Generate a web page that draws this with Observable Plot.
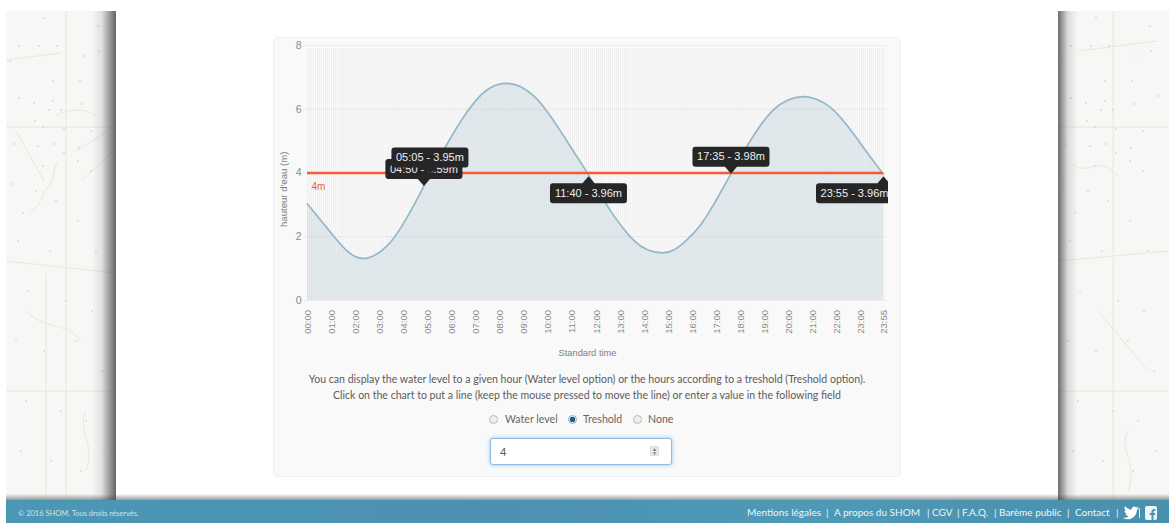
<!DOCTYPE html>
<html lang="en"><head><meta charset="utf-8">
<script src="https://cdn.jsdelivr.net/npm/d3@7"></script>
<script src="https://cdn.jsdelivr.net/npm/@observablehq/plot@0.6"></script>
<style>
html,body{margin:0;padding:0;background:#fff;width:1169px;height:523px;overflow:hidden;font-family:"Lato",sans-serif}
.abs{position:absolute}
.map{background:#f7f7f5;overflow:hidden}
#page{left:116px;top:11px;width:942px;height:489px;background:#fff}
#shadowL{left:92px;top:11px;width:24px;height:489px;background:linear-gradient(to right,rgba(60,60,60,0),rgba(60,60,60,.12) 40%,rgba(50,50,50,.75))}
#shadowR{left:1058px;top:11px;width:20px;height:489px;background:linear-gradient(to left,rgba(60,60,60,0),rgba(60,60,60,.14) 50%,rgba(50,50,50,.7))}
#shadowB{left:6px;top:494px;width:1163px;height:6px;background:linear-gradient(to bottom,rgba(70,70,70,0),rgba(70,70,70,.55))}
#panel{left:273px;top:37px;width:626px;height:438px;background:#f9f9f9;border:1px solid #f0f0f0;border-radius:4px}
#chart{left:273px;top:37px}
#chart svg{display:block;background:transparent}
.help{left:273px;width:628px;text-align:center;color:#5c5c5c;font-size:10.55px;white-space:nowrap}
#radios{left:273px;top:412px;width:628px;height:16px;color:#666;font-size:10.6px}
#radios span{position:absolute;top:1px}
#radios i{position:absolute;top:3px;width:9px;height:9px;border-radius:50%;border:1px solid #bbb;background:#eee;box-sizing:border-box}
#radios i.on{background:radial-gradient(circle,#1d5f80 0 2.5px,#dfe8ee 3px);border-color:#9ab}
#field{left:490px;top:438px;width:180px;height:25px;background:#fff;border:1px solid #8fbce0;border-radius:3px;box-shadow:0 0 4px rgba(90,160,220,.6);color:#555;font-size:11px;line-height:25px;text-indent:9px}
#spin{left:650px;top:446px;width:9px;height:10px;background:#e6e9ec;border:1px solid #ddd;box-sizing:border-box;color:#778;font-size:5px;line-height:4px;text-align:center}
#footer{left:6px;top:500px;width:1163px;height:23px;background:linear-gradient(100deg,#4c97b6,#4b92b0 40%,#4e99b6 70%,#4890ad);color:#e8f2f6;overflow:hidden}
#copy{left:12px;top:9px;font-size:7.5px;color:#cfe3ec;white-space:nowrap}
#links span{position:absolute;top:6px;font-size:10px;white-space:nowrap;color:#eef6f9}
</style></head><body>
<div class="abs map" style="left:6px;top:11px;width:110px;height:489px"><svg id="mapL" width="110" height="489"></svg></div>
<div class="abs map" style="left:1058px;top:11px;width:111px;height:489px"><svg id="mapR" width="111" height="489"></svg></div>
<div class="abs" id="page"></div>
<div class="abs" id="shadowL"></div><div class="abs" id="shadowR"></div><div class="abs" id="shadowB"></div>
<div class="abs" id="panel"></div>
<div class="abs" id="chart"></div>
<div class="abs help" style="top:373px">You can display the water level to a given hour (Water level option) or the hours according to a treshold (Treshold option).</div>
<div class="abs help" style="top:389px">Click on the chart to put a line (keep the mouse pressed to move the line) or enter a value in the following field</div>
<div class="abs" id="radios">
 <i style="left:216px"></i><span style="left:232px">Water level</span>
 <i class="on" style="left:295px"></i><span style="left:310px">Treshold</span>
 <i style="left:360px"></i><span style="left:375px">None</span>
</div>
<div class="abs" id="field">4</div>
<div class="abs" id="spin">▲<br>▼</div>
<div class="abs" id="footer">
 <div class="abs" id="copy">© 2016 SHOM. Tous droits réservés.</div>
 <div id="links">
  <span style="left:741px">Mentions légales</span><span style="left:820px">|</span>
  <span style="left:828px">A propos du SHOM</span><span style="left:921px">|</span>
  <span style="left:926px">CGV</span><span style="left:951px">|</span>
  <span style="left:956px">F.A.Q.</span><span style="left:988px">|</span>
  <span style="left:993px">Barème public</span><span style="left:1061px">|</span>
  <span style="left:1069px">Contact</span><span style="left:1110px">|</span>
 </div>
 <svg class="abs" style="left:1116px;top:4px" width="40" height="17">
  <path d="M1 12c5 3 13 1 14-8l2-2-2 .5 1.500-2-2.300 1c-2-2-5-.5-4.500 2.200C7 3.500 4.500 2 3 0c-1 2-.5 3.500 1 5l-1.500-.4c0 1.800 1 3 2.600 3.400l-1.500.1c.5 1.300 1.500 2 3 2.200C5.500 11.500 3.500 12 1 12z" fill="#fff" transform="translate(0,2)"/>
  <rect x="17" y="4" width="1" height="10" fill="#dfeef4"/>
  <rect x="23" y="2" width="12" height="14" rx="2" fill="#eef5f8"/>
  <path d="M29.500 16v-5h-1.800V9h1.800V7.500c0-1.800 1-2.600 2.500-2.600h1.300v2h-.9c-.7 0-.9.3-.9.900V9h1.800l-.3 2h-1.500v5z" fill="#4c94b1"/>
 </svg>
</div>
<script>
// ---- values ----
const times = ["00:00","00:30","01:05","01:40","02:05","02:25","02:50","03:20","03:50","04:25","04:50","05:05","05:55","06:30","07:05","07:35","08:15","08:50","09:25","09:55","10:30","11:05","11:40","12:25","13:00","13:35","14:05","14:45","15:15","15:45","16:20","16:50","17:35","18:15","18:50","19:20","19:55","20:35","21:10","21:45","22:15","22:50","23:25","23:55"];
const levels = [3.03,2.56,2.02,1.50,1.33,1.30,1.41,1.70,2.20,2.98,3.59,3.95,5.08,5.80,6.38,6.72,6.85,6.75,6.43,5.98,5.33,4.63,3.96,2.98,2.35,1.83,1.57,1.46,1.57,1.88,2.35,2.95,3.98,4.86,5.54,6.01,6.31,6.43,6.33,6.07,5.65,5.07,4.45,3.96];
const tickLabels = ["00:00","01:00","02:00","03:00","04:00","05:00","06:00","07:00","08:00","09:00","10:00","11:00","12:00","13:00","14:00","15:00","16:00","17:00","18:00","19:00","20:00","21:00","22:00","23:00","23:55"];
const yTicks = [0,2,4,6,8];
const threshold = 4;
const tipTimes  = ["04:50","05:05","11:40","17:35","23:55"];
const tipLevels = [3.59,3.95,3.96,3.98,3.96];
const stepMinutes = 5;

const toMin = s => +s.slice(0,2)*60 + +s.slice(3);
const series = times.map((t,i)=>({m:toMin(t),v:levels[i]}));
const tickMins = tickLabels.map(toMin);
const gridMins = d3.range(0,toMin("23:55")+1,stepMinutes);
const tips = tipTimes.map((t,i)=>({m:toMin(t),v:tipLevels[i],label:`${t} - ${tipLevels[i].toFixed(2)}m`}));

const BW=77,BH=20,AR=7,R=3;
// tooltip shape: rounded box plus pointer; origin is the pointed-at sample
function bubble(dx,below){return {draw(c){
  const x0=dx-BW/2,x1=dx+BW/2, y0=below?9:-AR-BH, y1=y0+BH;
  c.moveTo(x0+R,y0);
  if(below){c.lineTo(-6,y0);c.lineTo(0,2);c.lineTo(6,y0);}
  c.lineTo(x1-R,y0);c.arcTo(x1,y0,x1,y0+R,R);c.lineTo(x1,y1-R);c.arcTo(x1,y1,x1-R,y1,R);
  if(!below){c.lineTo(6,y1);c.lineTo(0,y1+AR);c.lineTo(-6,y1);}
  c.lineTo(x0+R,y1);c.arcTo(x0,y1,x0,y1-R,R);c.lineTo(x0,y0+R);c.arcTo(x0,y0,x0+R,y0,R);c.closePath();
}}}
const tipMark=(d,dx,below)=>[
  Plot.dot([d],{x:"m",y:"v",symbol:bubble(dx,below),r:5,fill:"#262626",stroke:"none"}),
  Plot.text([d],{x:"m",y:"v",text:"label",dx,dy:below?9+BH/2:-AR-BH/2,fill:"#eeeeee",fontSize:11,fontFamily:"Liberation Sans"})
];

const chart = Plot.plot({
  width:615,height:330,marginLeft:34,marginRight:5,marginTop:8,marginBottom:67,
  style:{background:"transparent",fontFamily:"Liberation Sans",color:"#888"},
  x:{domain:[0,toMin("23:55")],axis:null},
  y:{domain:[0,8],axis:null},
  marks:[
    Plot.ruleX(gridMins,{y1:0,y2:8,stroke:"#000",strokeOpacity:.04,insetBottom:-3}),
    Plot.ruleY(yTicks,{stroke:"#000",strokeOpacity:.05,insetLeft:-4,insetRight:-4}),
    Plot.areaY(series,{x:"m",y:"v",curve:"basis",fill:"rgb(151,187,205)",fillOpacity:.22}),
    Plot.lineY(series,{x:"m",y:"v",curve:"basis",stroke:"rgb(146,184,202)",strokeWidth:1.7}),
    Plot.ruleY([threshold],{stroke:"#f25c3a",strokeWidth:2.4}),
    Plot.text([threshold+"m"],{frameAnchor:"left",dx:4,dy:13.5,fill:"#f25c3a",fontSize:10,textAnchor:"start"}),
    Plot.axisX({ticks:tickMins,tickFormat:m=>tickLabels[tickMins.indexOf(m)],tickSize:0,tickPadding:9.5,tickRotate:-90,fontSize:9.5,label:null,fill:"#8a8a8a"}),
    Plot.axisY({ticks:yTicks,tickSize:0,tickPadding:6,fontSize:10.5,label:null,fill:"#8a8a8a"}),
    Plot.text(["hauteur d'eau (m)"],{frameAnchor:"left",rotate:-90,dx:-24,dy:54,fontSize:9.6,fill:"#808080"}),
    Plot.text(["Standard time"],{frameAnchor:"bottom",dx:-8,dy:55,fontSize:9.3,fill:"#808080"}),
    tipMark(tips[0],0,false),
    tipMark(tips[1],0,false),
    tipMark(tips[2],0,true),
    tipMark(tips[3],0,false),
    tipMark(tips[4],-29,true)
  ]
});
document.getElementById("chart").append(chart);

// faint chart-paper decoration for the page background
function decorate(id,lines){
  const s=d3.select(id);
  s.append("g").attr("stroke","#e6e6e2").attr("fill","none").selectAll("path").data(lines).join("path").attr("d",d=>d);
  const pts=[[13,35],[33,35],[51,35],[4,50],[38,7],[92,15],[78,45],[93,40],[47,70],[74,70],[13,87],[47,90],[28,92],[76,93],[100,85],[43,99],[55,99],[29,110],[37,116],[58,118],[85,120],[8,133],[32,135],[48,133],[73,137],[5,173],[17,202],[37,155],[58,142],[72,150],[85,160],[30,180],[50,190],[12,230],[44,240],[72,210],[90,240],[22,280],[60,290],[86,300],[10,330],[38,340],[70,330],[96,360],[20,390],[55,400],[80,410],[15,440],[45,450],[75,460],[98,440]];
  s.append("g").attr("fill","#d6d6d1").selectAll("circle").data(pts).join("circle").attr("cx",d=>d[0]).attr("cy",d=>d[1]).attr("r",.9);
}
decorate("#mapL",["M0 49L55 42","M0 116H110","M60 0V489","M10 120L38 170","M50 105c10-8 30-8 40 0","M52 150c-6 8 -2 18 -10 26c-8 8-6 20-18 24","M70 140L105 118","M75 170L108 140","M0 250L110 262","M20 300c20 20 40 10 55 30","M0 380H110","M40 262V489","M80 400c-10 20 10 30 0 60"]);
decorate("#mapR",["M0 116H111","M55 0V489","M20 40L100 30","M10 150c20 20 30 -10 50 15","M0 250L111 240","M40 300L90 360","M0 380H111","M70 420c-10 20 10 30 0 60"]);
</script>
</body></html>
